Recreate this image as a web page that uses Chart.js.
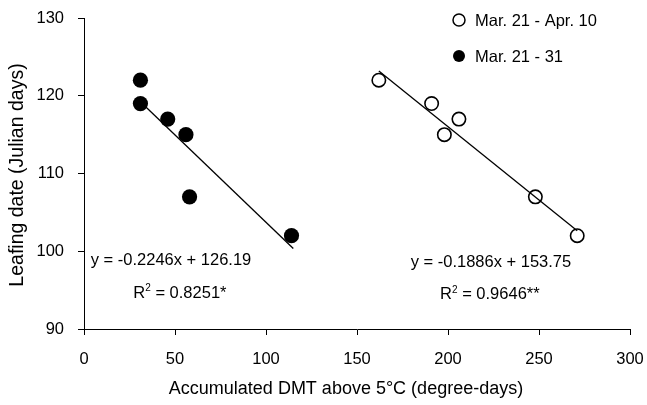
<!DOCTYPE html>
<html><head><meta charset="utf-8">
<script src="https://cdn.jsdelivr.net/npm/chart.js@4"></script>
<style>html,body{margin:0;padding:0;background:#fff}#wrap{width:647px;height:405px}</style>
</head><body><div id="wrap"><canvas id="c"></canvas></div>
<script>
const openX = [162, 191, 206, 198, 248, 271];
const openY = [122, 119, 117, 115, 107, 102];
const filledX = [31, 31, 46, 56, 58, 114];
const filledY = [122, 119, 117, 115, 107, 102];
const openFit = {slope: -0.1886, intercept: 153.75, from: 162, to: 271};
const filledFit = {slope: -0.2246, intercept: 126.19, from: 31, to: 115};
const seriesNames = ["Mar. 21 - Apr. 10", "Mar. 21 - 31"];
const eqTexts = [
  {text: "y = -0.2246x + 126.19", x: 47.8, y: 98.8},
  {text: "R\u00b2 = 0.8251*", x: 52.7, y: 94.6},
  {text: "y = -0.1886x + 153.75", x: 223.6, y: 98.5},
  {text: "R\u00b2 = 0.9646**", x: 223, y: 94.4}
];
const xTicks = [0, 50, 100, 150, 200, 250, 300];
const yTicks = [90, 100, 110, 120, 130];
const xTitle = "Accumulated DMT above 5\u00b0C (degree-days)";
const yTitle = "Leafing date (Julian days)";

const pts = (xs, ys) => xs.map((x, i) => ({x, y: ys[i]}));
const fitPts = f => [{x: f.from, y: f.slope*f.from + f.intercept}, {x: f.to, y: f.slope*f.to + f.intercept}];
const FONT = "'Liberation Sans', Arial, sans-serif";

const overlay = {
  id: 'overlay',
  afterDraw(chart) {
    const ctx = chart.ctx, xs = chart.scales.x, ys = chart.scales.y;
    ctx.save();
    ctx.fillStyle = '#000';
    ctx.textBaseline = 'middle';
    eqTexts.forEach(t => {
      const px = xs.getPixelForValue(t.x), py = ys.getPixelForValue(t.y);
      ctx.font = '16.5px ' + FONT;
      if (t.text.startsWith('R\u00b2')) {
        const rest = t.text.slice(2);
        const wR = ctx.measureText('R').width;
        const wRest = ctx.measureText(rest).width;
        ctx.font = '10px ' + FONT;
        const w2 = ctx.measureText('2').width;
        let x0 = px - (wR + w2 + wRest)/2;
        ctx.textAlign = 'left';
        ctx.font = '16.5px ' + FONT;
        ctx.fillText('R', x0, py);
        ctx.font = '10px ' + FONT;
        ctx.fillText('2', x0 + wR, py - 5);
        ctx.font = '16.5px ' + FONT;
        ctx.fillText(rest, x0 + wR + w2, py);
      } else {
        ctx.textAlign = 'center';
        ctx.fillText(t.text, px, py);
      }
    });
    // legend
    const lx = 459, ly = [20, 56];
    ctx.textAlign = 'left';
    ctx.font = '16.5px ' + FONT;
    seriesNames.forEach((name, i) => {
      ctx.beginPath();
      ctx.arc(lx, ly[i], 6, 0, Math.PI*2);
      if (i === 0) { ctx.fillStyle = '#fff'; ctx.fill(); ctx.lineWidth = 1.5; ctx.strokeStyle = '#000'; ctx.stroke(); }
      else { ctx.fillStyle = '#000'; ctx.fill(); }
      ctx.fillStyle = '#000';
      ctx.fillText(name, lx + 16, ly[i] + 1);
    });
    // axis titles
    ctx.textAlign = 'center';
    ctx.font = '18px ' + FONT;
    ctx.fillText(xTitle, 346, 389);
    ctx.save();
    ctx.translate(18, 175);
    ctx.rotate(-Math.PI/2);
    ctx.font = '19.5px ' + FONT;
    ctx.fillText(yTitle, 0, 0);
    ctx.restore();
    ctx.restore();
  }
};

new Chart(document.getElementById('c'), {
  type: 'scatter',
  data: {
    datasets: [
      {label: 'fitOpen', data: fitPts(openFit), type: 'line', showLine: true, borderColor: '#000', borderWidth: 1.3, pointRadius: 0, fill: false},
      {label: 'fitFilled', data: fitPts(filledFit), type: 'line', showLine: true, borderColor: '#000', borderWidth: 1.3, pointRadius: 0, fill: false},
      {label: seriesNames[0], data: pts(openX, openY), pointRadius: 6.7, pointBackgroundColor: '#fff', pointBorderColor: '#000', pointBorderWidth: 1.6},
      {label: seriesNames[1], data: pts(filledX, filledY), pointRadius: 7.6, pointBackgroundColor: '#000', pointBorderColor: '#000', pointBorderWidth: 0}
    ]
  },
  options: {
    responsive: true, maintainAspectRatio: false, animation: false,
    layout: {padding: {top: 18, right: 17, left: 0, bottom: 0}},
    plugins: {legend: {display: false}, tooltip: {enabled: false}},
    scales: {
      x: {
        type: 'linear', min: 0, max: 300,
        afterBuildTicks: s => { s.ticks = xTicks.map(v => ({value: v})); },
        afterFit: s => { s.height = 76; s.paddingLeft = 0; s.paddingRight = 0; },
        grid: {drawOnChartArea: false, color: '#000', tickLength: 6, tickWidth: 1},
        border: {color: '#000', width: 1},
        ticks: {color: '#000', font: {family: FONT, size: 16.5}, padding: 15, maxRotation: 0},
        title: {display: false}
      },
      y: {
        min: 90, max: 130,
        afterBuildTicks: s => { s.ticks = yTicks.map(v => ({value: v})); },
        afterFit: s => { s.width = 84; s.paddingTop = 0; s.paddingBottom = 0; },
        grid: {drawOnChartArea: false, color: '#000', tickLength: 6, tickWidth: 1},
        border: {color: '#000', width: 1},
        ticks: {color: '#000', font: {family: FONT, size: 16.5}, padding: 14},
        title: {display: false}
      }
    }
  },
  plugins: [overlay]
});
</script></body></html>
